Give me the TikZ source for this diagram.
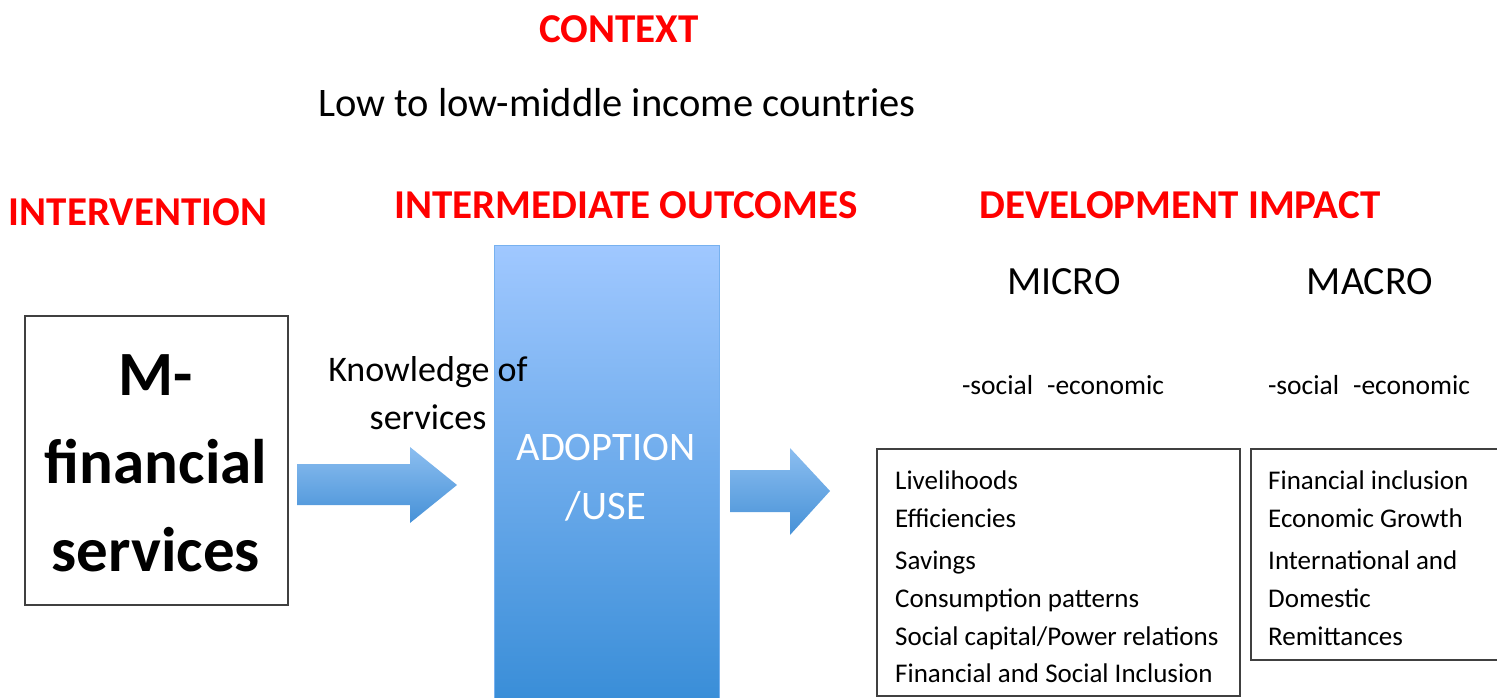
\documentclass[tikz,border=0pt]{standalone}
\usepackage{fontspec}
\setmainfont{Carlito}
\definecolor{hred}{RGB}{255,0,0}
\definecolor{btop}{RGB}{160,200,255}
\definecolor{bbot}{RGB}{58,142,216}
\definecolor{aroT}{RGB}{140,190,240}
\definecolor{aroB}{RGB}{70,145,215}
\begin{document}
\begin{tikzpicture}[x=1pt,y=-1pt,
  heading/.style={text=hred,font=\bfseries\fontsize{41}{46}\selectfont,inner sep=0pt},
  plain/.style={inner sep=0pt},
  listbox/.style={draw=black!75,line width=2.2pt},
  listtext/.style={inner sep=0pt,font=\fontsize{27}{37.8}\selectfont,align=left,anchor=north west}]
\useasboundingbox (0,0) rectangle (1497,698);
% headings
\node[heading] (ctx) at (619,29) {CONTEXT};
\node[plain,font=\fontsize{40.5}{46}\selectfont] (low) at (617,103) {Low to low-middle income countries};
\node[heading] (int) at (138,212) {INTERVENTION};
\node[heading] (imo) at (626,205) {INTERMEDIATE OUTCOMES};
\node[heading] (dev) at (1180,205) {DEVELOPMENT IMPACT};
\node[plain,font=\fontsize{40}{46}\selectfont] (micro) at (1064,282) {MICRO};
\node[plain,font=\fontsize{40}{46}\selectfont] (macro) at (1370,282) {MACRO};
\node[plain,font=\fontsize{27.5}{30}\selectfont] (soc1) at (1063,385) {-social\hspace{14pt}-economic};
\node[plain,font=\fontsize{27.5}{30}\selectfont] (soc2) at (1369,385) {-social\hspace{14pt}-economic};
% intervention box
\draw[listbox] (25,316) rectangle (288,605);
\node[plain,font=\bfseries\fontsize{63}{88}\selectfont,align=center] (mfs) at (156,463) {M-\\financial\\services};
% adoption box
\shade[top color=btop,bottom color=bbot] (494,245) rectangle (719,698);
\draw[draw=btop!60!bbot,line width=1pt] (494,698) -- (494,245) -- (719,245) -- (719,698);
\node[plain,text=white,font=\fontsize{40.5}{59}\selectfont,align=center] (adopt) at (606,478) {ADOPTION\\/USE};
% knowledge label
\node[plain,font=\fontsize{36}{48}\selectfont,align=center] (know) at (428,393) {Knowledge of\\services};
% arrows
\shade[top color=aroT,bottom color=aroB] (297,464) -- (410,464) -- (410,447) -- (457,485) -- (410,523) -- (410,505) -- (297,505) -- cycle;
\shade[top color=aroT,bottom color=aroB] (730,470) -- (790,470) -- (790,448) -- (830,491) -- (790,535) -- (790,512) -- (730,512) -- cycle;
% micro / macro boxes
\draw[listbox] (877,449) rectangle (1240,696);
\draw[listbox] (1251,449) rectangle (1505,660);
\node[listtext] (microlist) at (895,471) {Livelihoods\\Efficiencies\\[4pt]Savings\\Consumption patterns\\Social capital/Power relations\\Financial and Social Inclusion};
\node[listtext] (macrolist) at (1268,471) {Financial inclusion\\Economic Growth\\[4pt]International and\\Domestic\\Remittances};
\end{tikzpicture}
\end{document}
